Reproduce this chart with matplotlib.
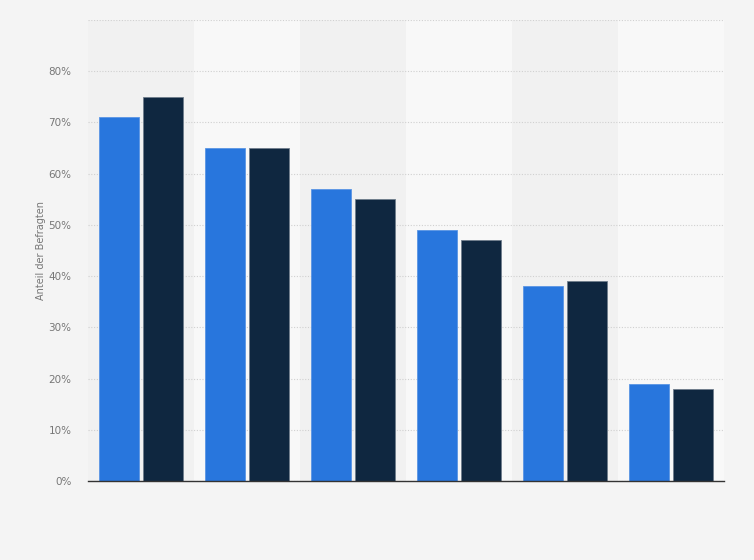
import matplotlib.pyplot as plt
import numpy as np
from matplotlib.ticker import FuncFormatter

# survey shares (%) per category, two series
categories = ["1", "2", "3", "4", "5", "6"]
series_a = [71, 65, 57, 49, 38, 19]
series_b = [75, 65, 55, 47, 39, 18]
y_ticks = [0, 10, 20, 30, 40, 50, 60, 70, 80, 90]

fig = plt.figure(figsize=(7.54, 5.6), dpi=100)
fig.patch.set_facecolor("#f4f4f4")
ax = fig.add_axes([88 / 754, 79 / 560, 636 / 754, 461 / 560])
ax.set_facecolor("#f4f4f4")

x = np.arange(len(categories))
# alternating column shading
for i in x:
    ax.axvspan(i - 0.5, i + 0.5, color="#f1f1f1" if i % 2 == 0 else "#f8f8f8",
               zorder=0, lw=0)

w = 0.37
off = 0.208
ax.bar(x - off, series_a, w, color="#2876dd", edgecolor="#5a95e4", linewidth=0.6, zorder=3)
ax.bar(x + off, series_b, w, color="#0f2740", edgecolor="#6f7d8c", linewidth=0.6, zorder=3)

ax.set_xlim(-0.5, len(categories) - 0.5)
ax.set_ylim(0, 90)
ax.set_yticks(y_ticks)
ax.yaxis.set_major_formatter(FuncFormatter(lambda v, p: "" if v >= 90 else f"{int(v)}%"))
ax.grid(axis="y", color="#d0d0d0", linestyle=(0, (1, 1.5)), linewidth=0.8, zorder=1)
ax.set_xticks([])
ax.tick_params(axis="y", length=0, pad=12, labelsize=7.5, labelcolor="#777777")

for s in ["top", "right", "left"]:
    ax.spines[s].set_visible(False)
ax.spines["bottom"].set_color("#333333")
ax.spines["bottom"].set_linewidth(1.0)
ax.spines["bottom"].set_zorder(4)

ax.set_ylabel("Anteil der Befragten", fontsize=7, color="#777777")
ax.yaxis.set_label_coords(-42 / 636, 0.5)

plt.savefig("out.png", dpi=100, facecolor=fig.get_facecolor())
